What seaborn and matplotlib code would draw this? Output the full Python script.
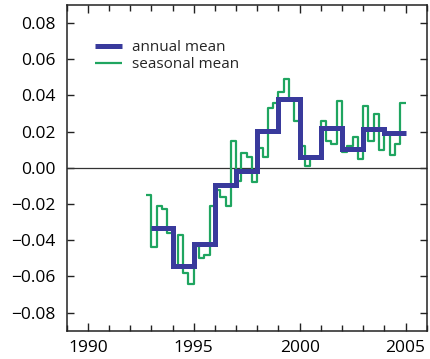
import numpy as np
import pandas as pd
import matplotlib
matplotlib.use("Agg")
import matplotlib.pyplot as plt
from matplotlib.ticker import MultipleLocator, FuncFormatter
import seaborn as sns

# annual means, one value per year (step starts at the year)
annual_years = [1993, 1994, 1995, 1996, 1997, 1998, 1999, 2000, 2001, 2002, 2003, 2004]
annual_mean = [-0.033, -0.054, -0.042, -0.0094, -0.0015, 0.0206, 0.038, 0.006,
               0.022, 0.0106, 0.0217, 0.019]
annual_end = 2005

# seasonal means, one value per quarter starting at 1992.75
season_start = 1992.75
seasonal_mean = [
    -0.015,
    -0.044, -0.021, -0.023, -0.036,   # 1993
    -0.055, -0.037, -0.058, -0.064,   # 1994
    -0.043, -0.050, -0.048, -0.021,   # 1995
    -0.012, -0.016, -0.021, 0.015,    # 1996
    -0.007, 0.008, 0.006, -0.008,     # 1997
    0.011, 0.006, 0.033, 0.036,       # 1998
    0.042, 0.049, 0.038, 0.026,       # 1999
    0.012, 0.001, 0.006, 0.006,       # 2000
    0.026, 0.015, 0.013, 0.037,       # 2001
    0.009, 0.012, 0.017, 0.005,       # 2002
    0.034, 0.015, 0.030, 0.010,       # 2003
    0.019, 0.007, 0.013, 0.036,       # 2004
]

x_ticks = [1990, 1995, 2000, 2005]
labels = ["annual mean", "seasonal mean"]
blue = "#393a9c"
green = "#1fa560"

# step tables (repeat last value at the end so the final step is drawn)
annual_df = pd.DataFrame({
    "year": annual_years + [annual_end],
    "value": annual_mean + [annual_mean[-1]],
})
season_x = season_start + 0.25 * np.arange(len(seasonal_mean) + 1)
season_df = pd.DataFrame({
    "year": season_x,
    "value": seasonal_mean + [seasonal_mean[-1]],
})

sns.set_theme(style="ticks")
plt.rcParams["font.family"] = ["Open Sans", "DejaVu Sans"]

fig = plt.figure(figsize=(4.31, 3.59), dpi=100)
ax = fig.add_axes([0.1548, 0.0788, 0.8352, 0.9072])

ax.axhline(0, color="#333333", lw=0.9, zorder=1)
sns.lineplot(data=season_df, x="year", y="value", ax=ax, color=green, lw=1.6,
             drawstyle="steps-post", estimator=None, label=labels[1], zorder=2,
             solid_capstyle="butt")
sns.lineplot(data=annual_df, x="year", y="value", ax=ax, color=blue, lw=3.6,
             drawstyle="steps-post", estimator=None, label=labels[0], zorder=3,
             solid_capstyle="butt", solid_joinstyle="miter")

ax.set_xlim(1989, 2006)
ax.set_ylim(-0.09, 0.09)
ax.set_xlabel("")
ax.set_ylabel("")
ax.set_xticks(x_ticks)
ax.xaxis.set_minor_locator(MultipleLocator(1))
ax.yaxis.set_major_locator(MultipleLocator(0.02))
ax.yaxis.set_major_formatter(FuncFormatter(lambda v, p: f"{v:.2f}".replace("-", "\u2212")))

ax.tick_params(axis="both", which="both", direction="in", top=True, right=True,
               colors="#222222", labelcolor="black", labelsize=12.5)
ax.tick_params(axis="x", which="major", length=6, width=1.0, pad=7)
ax.tick_params(axis="x", which="minor", length=4, width=1.0)
ax.tick_params(axis="y", which="major", length=5, width=1.0, pad=8)
for s in ax.spines.values():
    s.set_color("#222222")
    s.set_linewidth(1.1)

h, l = ax.get_legend_handles_labels()
order = [l.index(labels[0]), l.index(labels[1])]
ax.legend([h[i] for i in order], [l[i] for i in order], loc="upper left",
          bbox_to_anchor=(0.079, 0.893), frameon=False, fontsize=11,
          handlelength=1.75, handletextpad=0.65, labelspacing=0.15,
          borderpad=0, borderaxespad=0)

fig.savefig("out.png", dpi=100)
